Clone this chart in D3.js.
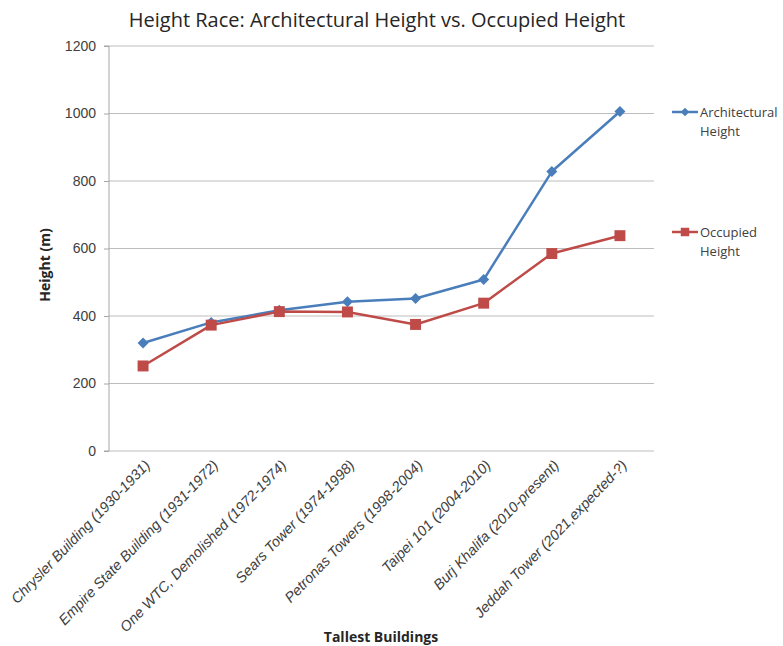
<!DOCTYPE html>
<html>
<head>
<meta charset="utf-8">
<script src="https://cdn.jsdelivr.net/npm/d3@7"></script>
<style>
  body { margin: 0; background: #fff; }
  svg { font-family: "Open Sans", sans-serif; }
</style>
</head>
<body>
<svg id="chart" width="783" height="646"></svg>
<script>
const buildings = [
  'Chrysler Building (1930-1931)',
  'Empire State Building (1931-1972)',
  'One WTC, Demolished (1972-1974)',
  'Sears Tower (1974-1998)',
  'Petronas Towers (1998-2004)',
  'Taipei 101 (2004-2010)',
  'Burj Khalifa (2010-present)',
  'Jeddah Tower (2021,expected-?)',
];
const architecturalHeight = [320, 381, 417, 442, 452, 508, 828, 1006];
const occupiedHeight = [252, 373, 413, 412, 375, 438, 585, 638];
const yTicks = [0, 200, 400, 600, 800, 1000, 1200];

const margin = { top: 46, left: 109, bottom: 195, right: 129 };
const width = 783 - margin.left - margin.right;
const height = 646 - margin.top - margin.bottom;

const svg = d3.select('#chart');
const chart = svg.append('g')
  .attr('transform', `translate(${margin.left}, ${margin.top})`);

const xScale = d3.scaleBand().domain(buildings).range([0, width]);
const yScale = d3.scaleLinear().domain([0, 1200]).range([height, 0]);

// gridlines
chart.append('g')
  .selectAll('line')
  .data(yTicks)
  .enter()
  .append('line')
  .attr('x1', 0)
  .attr('x2', width)
  .attr('y1', d => yScale(d))
  .attr('y2', d => yScale(d))
  .attr('stroke', '#bdbdbd')
  .attr('stroke-width', 1);

const yAxis = d3.axisLeft(yScale).tickValues(yTicks).tickFormat(d3.format('d')).tickSize(5).tickPadding(8);
const yG = chart.append('g').call(yAxis);
yG.select('.domain').attr('stroke', '#a6a6a6').attr('d', `M-5,${height}H0V0H-5`);
yG.selectAll('.tick line').attr('stroke', '#a6a6a6');
yG.selectAll('.tick text')
  .attr('fill', '#404040')
  .style('font-size', '14px');

const xAxis = d3.axisBottom(xScale).tickSize(0).tickPadding(0);
const xG = chart.append('g')
  .attr('transform', `translate(0, ${height})`)
  .call(xAxis);
xG.select('.domain').remove();
xG.selectAll('.tick text')
  .attr('fill', '#404040')
  .style('font-size', '14.5px')
  .style('font-style', 'italic')
  .attr('text-anchor', 'end')
  .attr('dy', null)
  .attr('y', 0)
  .attr('transform', 'translate(8, 15) rotate(-46)');

const line = d3.line()
  .x((d, i) => xScale(buildings[i]) + xScale.bandwidth() / 2)
  .y(d => yScale(d));

const series = [
  { name: ['Architectural', 'Height'], values: architecturalHeight, color: '#4a7ebb', shape: d3.symbolSquare, size: 60, rotate: 45 },
  { name: ['Occupied', 'Height'], values: occupiedHeight, color: '#be4b48', shape: d3.symbolSquare, size: 120, rotate: 0 },
];

series.forEach(s => {
  chart.append('path')
    .datum(s.values)
    .attr('fill', 'none')
    .attr('stroke', s.color)
    .attr('stroke-width', 2.5)
    .attr('stroke-linejoin', 'round')
    .attr('d', line);

  chart.selectAll(null)
    .data(s.values)
    .enter()
    .append('path')
    .attr('d', d3.symbol().type(s.shape).size(s.size))
    .attr('fill', s.color)
    .attr('transform', (d, i) => `translate(${xScale(buildings[i]) + xScale.bandwidth() / 2}, ${yScale(d)}) rotate(${s.rotate})`);
});

// legend
const legendY = [112, 232];
series.forEach((s, i) => {
  const g = svg.append('g').attr('transform', `translate(672, ${legendY[i]})`);
  g.append('line')
    .attr('x1', 0).attr('x2', 26)
    .attr('stroke', s.color).attr('stroke-width', 2.5);
  g.append('path')
    .attr('d', d3.symbol().type(s.shape).size(s.size * 0.6))
    .attr('fill', s.color)
    .attr('transform', `translate(13, 0) rotate(${s.rotate})`);
  g.append('text')
    .attr('x', 28)
    .attr('y', 5)
    .attr('fill', '#404040')
    .style('font-size', '13px')
    .selectAll('tspan')
    .data(s.name)
    .enter()
    .append('tspan')
    .attr('x', 28)
    .attr('dy', (d, j) => (j === 0 ? 0 : 19))
    .text(d => d);
});

svg.append('text')
  .attr('x', 377)
  .attr('y', 27)
  .attr('text-anchor', 'middle')
  .attr('fill', '#262626')
  .style('font-size', '20px')
  .text('Height Race: Architectural Height vs. Occupied Height');

svg.append('text')
  .attr('transform', 'translate(50, 265) rotate(-90)')
  .attr('text-anchor', 'middle')
  .attr('fill', '#262626')
  .style('font-size', '14px')
  .style('font-weight', 'bold')
  .text('Height (m)');

svg.append('text')
  .attr('x', 381)
  .attr('y', 642)
  .attr('text-anchor', 'middle')
  .attr('fill', '#262626')
  .style('font-size', '14px')
  .style('font-weight', 'bold')
  .text('Tallest Buildings');
</script>
</body>
</html>
